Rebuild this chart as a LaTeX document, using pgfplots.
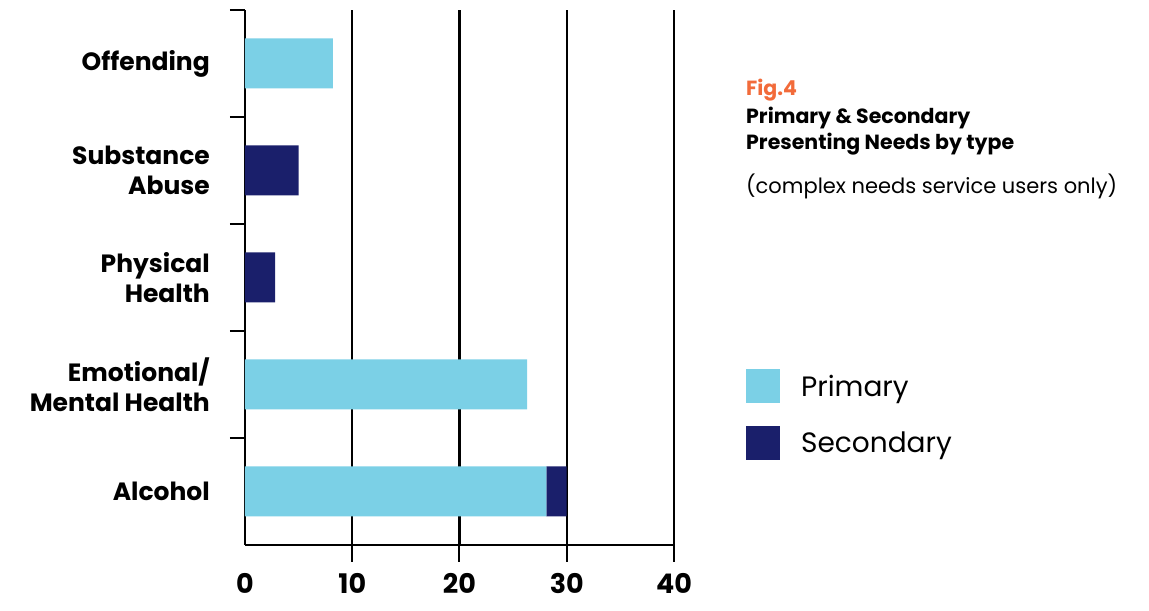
\documentclass[border=0pt]{standalone}
\usepackage{fontspec}
\setmainfont{Poppins}
\usepackage{pgfplots}
\pgfplotsset{compat=1.18}
\definecolor{prim}{HTML}{7BD0E6}
\definecolor{sec}{HTML}{1A1F6B}
\definecolor{figor}{HTML}{F26B3A}
\begin{document}
\begin{tikzpicture}
\begin{axis}[
  scale only axis, width=429pt, height=535pt,
  xmin=0, xmax=40, ymin=-0.5, ymax=4.5,
  xbar stacked, bar width=50pt,
  axis x line=bottom, axis y line=left,
  axis line style={line width=2pt, black, -},
  tick align=outside,
  major tick length=0pt,
  tick style={black, line width=2pt},
  xtick={0,10,20,30,40},
  ytick={0,1,2,3,4},
  yticklabels={Alcohol,{Emotional/\\Mental Health},{Physical\\Health},{Substance\\Abuse},Offending},
  extra x ticks={10,20,30,40},
  extra x tick labels={},
  extra x tick style={major tick length=17pt, grid=major},
  major grid style={black, line width=2.2pt},
  extra y ticks={0.5,1.5,2.5,3.5,4.5},
  extra y tick labels={},
  extra y tick style={major tick length=15pt},
  /pgf/number format/assume math mode=true,
  yticklabel style={align=right, font=\fontsize{25}{30}\selectfont\bfseries, inner sep=0pt, xshift=-35pt},
  xticklabel style={font=\fontsize{27}{27}\selectfont\bfseries, inner sep=0pt, text height=19pt, text depth=0pt, yshift=-29pt},
  legend style={at={(1.1678,0.329)}, anchor=north west, draw=none, fill=none,
    font=\fontsize{28}{28}\selectfont, row sep=23pt, inner sep=0pt,
    nodes={inner sep=0pt}},
  legend cell align=left,
]
\addplot[fill=prim, draw=none, legend image code/.code={\path[fill=prim] (0pt,-17pt) rectangle (34pt,17pt); \path (55pt,0pt);}]
  coordinates {(28.1,0) (26.3,1) (0,2) (0,3) (8.2,4)};
\addplot[fill=sec, draw=none, legend image code/.code={\path[fill=sec] (0pt,-17pt) rectangle (34pt,17pt); \path (55pt,0pt);}]
  coordinates {(1.9,0) (0,1) (2.8,2) (5,3) (0,4)};
\legend{Primary,Secondary}
\end{axis}
\begin{scope}[x=1pt,y=1pt,shift={(-245pt,545pt)}]
\path[use as bounding box] (0,0) rectangle (1149,-599);
\node[anchor=base west, text=figor, font=\fontsize{20.5}{20}\selectfont\bfseries, inner sep=0pt] at (746,-96) {Fig.4};
\node[anchor=base west, font=\fontsize{20.5}{20}\selectfont\bfseries, inner sep=0pt] at (746,-124) {Primary \& Secondary};
\node[anchor=base west, font=\fontsize{20.5}{20}\selectfont\bfseries, inner sep=0pt] at (746,-150) {Presenting Needs by type};
\node[anchor=base west, font=\fontsize{21}{20}\selectfont, inner sep=0pt] at (746,-194) {(complex needs service users only)};
\end{scope}
\end{tikzpicture}
\end{document}
